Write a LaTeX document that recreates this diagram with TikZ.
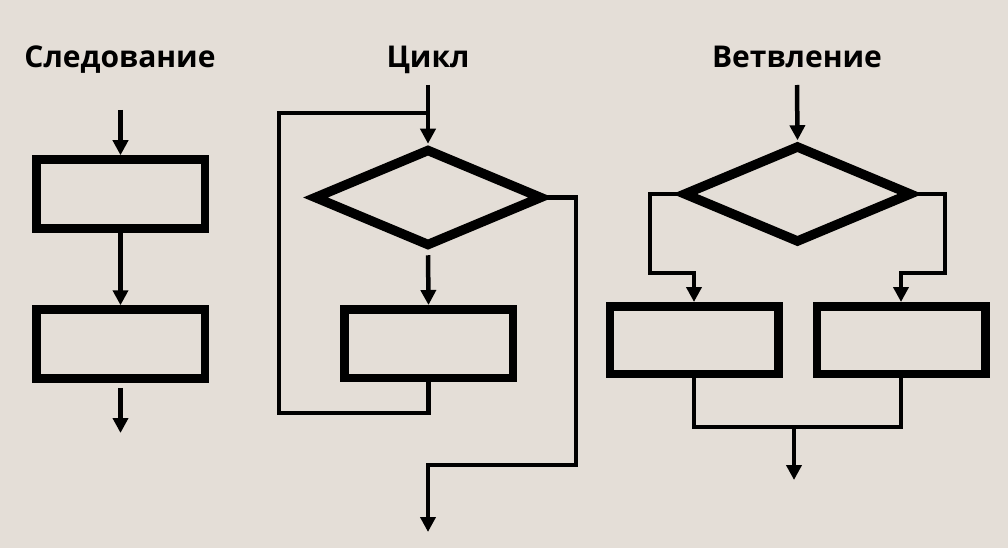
\documentclass[tikz,border=0pt]{standalone}
\usepackage{fontspec}
\setmainfont{Open Sans}
\usetikzlibrary{arrows.meta,shapes.geometric}
\definecolor{bg}{RGB}{228,222,215}
\begin{document}
\begin{tikzpicture}[x=1pt,y=-1pt,
 box/.style={draw,line width=8.5pt,rectangle,inner sep=0pt,minimum width=168.5pt,minimum height=69pt},
 dia/.style={draw,line width=9.5pt,diamond,inner sep=0pt,minimum width=229pt,minimum height=98pt},
 flow/.style={line width=4.5pt},
 arr/.style={flow,-{Triangle[length=15pt,width=15pt]}},
 title/.style={font=\bfseries\fontsize{30}{36}\selectfont,anchor=base}]
\fill[bg] (0,0) rectangle (1008,548);
\useasboundingbox (0,0) rectangle (1008,548);
% titles
\node[title] (t1) at (120,68) {Следование};
\node[title] (t2) at (428,68) {Цикл};
\node[title] (t3) at (797,68) {Ветвление};
% sequence
\node[box] (s1) at (120.5,194) {};
\node[box] (s2) at (120.5,344) {};
\coordinate (s0) at (120.5,110);
\coordinate (s3) at (120.5,433);
\draw[arr] (s0) -- (s1.north);
\draw[arr] (s1) -- (s2);
\draw[arr,shorten <=5pt] (s2.south) -- (s3);
% cycle
\node[dia] (cd) at (428,197.5) {};
\node[box,minimum height=68.5pt] (cb) at (428.5,343.5) {};
\coordinate (cin) at (428,85);
\coordinate (cl1) at (279,413);
\coordinate (cl2) at (279,113);
\coordinate (cjoin) at (428,113);
\coordinate (cr) at (576,465);
\coordinate (cout) at (428,532);
\draw[arr] (cin) -- (cd.north);
\draw[arr,shorten <=4pt] (cd.south) -- (cb.north);
\draw[flow] (cb.south) |- (cl1) -- (cl2) -- (cjoin);
\draw[arr] (cd.east) -| (cr) -| (cout);
% branching
\node[dia] (bd) at (797.5,194) {};
\node[box,minimum height=67.5pt] (bl) at (694,340) {};
\node[box,minimum height=67.5pt] (br) at (901,340) {};
\coordinate (bin) at (797,85);
\coordinate (bl1) at (650,273);
\coordinate (br1) at (945,273);
\coordinate (bjl) at (694,427);
\coordinate (bjr) at (901,427);
\coordinate (bjm) at (794,427);
\coordinate (bout) at (794,480);
\draw[arr] (bin) -- (bd.north);
\draw[arr] (bd.west) -| (bl1) -| (bl.north);
\draw[arr] (bd.east) -| (br1) -| (br.north);
\draw[flow] (bl.south) -- (bjl) -- (bjr) -- (br.south);
\draw[arr] (bjm) -- (bout);
\end{tikzpicture}
\end{document}
